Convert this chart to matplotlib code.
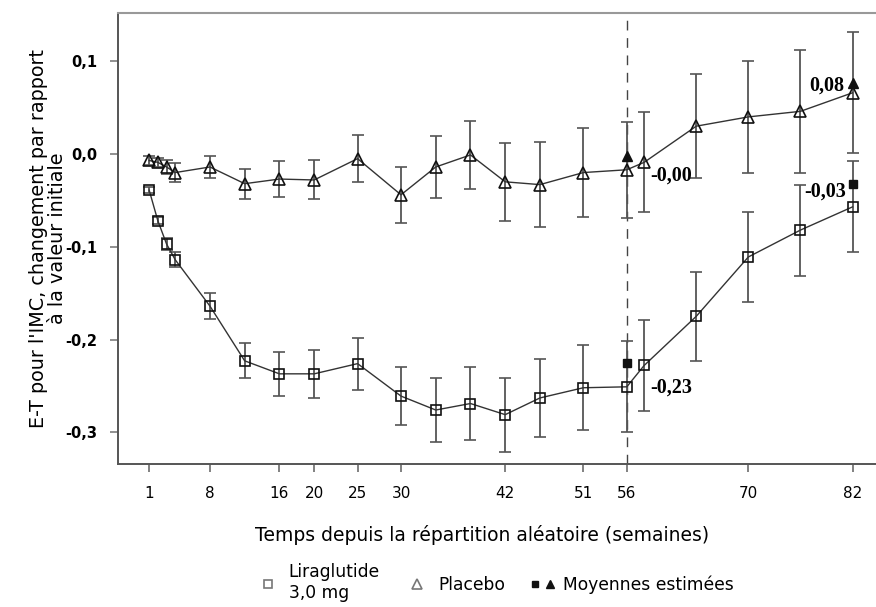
import matplotlib
matplotlib.use('Agg')
import matplotlib.pyplot as plt
from matplotlib.lines import Line2D
from matplotlib.legend_handler import HandlerTuple

weeks = [1, 2, 3, 4, 8, 12, 16, 20, 25, 30, 34, 38, 42, 46, 51, 56, 58, 64, 70, 76, 82]
lira_mean = [-0.039, -0.072, -0.097, -0.114, -0.164, -0.223, -0.237, -0.237, -0.226, -0.261, -0.276,
             -0.269, -0.281, -0.263, -0.252, -0.251, -0.228, -0.175, -0.111, -0.082, -0.057]
lira_err = [0.003, 0.004, 0.006, 0.008, 0.014, 0.019, 0.024, 0.026, 0.028, 0.031, 0.035,
            0.039, 0.040, 0.042, 0.046, 0.049, 0.049, 0.048, 0.049, 0.049, 0.049]
pla_mean = [-0.007, -0.009, -0.014, -0.020, -0.014, -0.032, -0.027, -0.028, -0.005, -0.044, -0.014,
            -0.001, -0.030, -0.033, -0.020, -0.017, -0.009, 0.030, 0.040, 0.046, 0.066]
pla_err = [0.005, 0.005, 0.008, 0.010, 0.012, 0.016, 0.019, 0.021, 0.025, 0.030, 0.033,
           0.037, 0.042, 0.046, 0.048, 0.052, 0.054, 0.056, 0.060, 0.066, 0.065]

est_weeks = [56, 82]
est_lira = [-0.225, -0.032]
est_pla = [-0.002, 0.077]
est_lira_labels = ['-0,23', '-0,03']
est_pla_labels = ['-0,00', '0,08']

xticks = [1, 8, 16, 20, 25, 30, 42, 51, 56, 70, 82]
yticks = [0.1, 0.0, -0.1, -0.2, -0.3]
ytick_labels = ['0,1', '0,0', '-0,1', '-0,2', '-0,3']

fig = plt.figure(figsize=(8.76, 6.07), dpi=100)
ax = fig.add_axes([0.135, 0.2356, 0.865, 0.7425])

ebar_kw = dict(ecolor='#555555', elinewidth=1.3, capsize=4.3, capthick=1.3)
ax.errorbar(weeks, pla_mean, yerr=pla_err, color='#333333', lw=1.0, marker='^', ms=8,
            mfc='none', mec='#111111', mew=1.2, zorder=3, **ebar_kw)
ax.errorbar(weeks, lira_mean, yerr=lira_err, color='#333333', lw=1.0, marker='s', ms=7.5,
            mfc='none', mec='#111111', mew=1.2, zorder=3, **ebar_kw)

ax.plot(est_weeks, est_lira, 's', color='#111111', ms=5.5, ls='none', zorder=4)
ax.plot(est_weeks, est_pla, '^', color='#111111', ms=6.5, ls='none', zorder=4)

ax.axvline(56, color='#444444', lw=1.0, dashes=(7, 5.5), zorder=2)

afont = dict(family='Liberation Serif', weight='bold', size=14.5)
offs_lira = [((16.6, -18), 'left'), ((-4.3, -6), 'right')]
offs_pla = [((16.6, -14.4), 'left'), ((-5.8, -2), 'right')]
for w, v, lab, (off, ha) in zip(est_weeks, est_lira, est_lira_labels, offs_lira):
    ax.annotate(lab, (w, v), xytext=off, textcoords='offset points', ha=ha, va='center', **afont)
for w, v, lab, (off, ha) in zip(est_weeks, est_pla, est_pla_labels, offs_pla):
    ax.annotate(lab, (w, v), xytext=off, textcoords='offset points', ha=ha, va='center', **afont)

ax.set_xlim(-2.56, 84.7)
ax.set_ylim(-0.3342, 0.1517)
ax.set_xticks(xticks)
ax.set_xticklabels([str(t) for t in xticks], fontsize=11)
ax.set_yticks(yticks)
ax.set_yticklabels(ytick_labels, fontsize=10.5, fontweight='bold')
ax.tick_params(axis='x', length=6, width=1.3, color='#777777', pad=10)
ax.tick_params(axis='y', length=6, width=1.3, color='#888888', pad=9)

ax.spines['right'].set_visible(False)
ax.spines['top'].set_color('#999999')
ax.spines['top'].set_linewidth(1.5)
for s in ['left', 'bottom']:
    ax.spines[s].set_color('#555555')
    ax.spines[s].set_linewidth(1.4)

ax.set_xlabel('Temps depuis la répartition aléatoire (semaines)', fontsize=13.5)
ax.xaxis.set_label_coords(0.48, -0.136)
ax.set_ylabel("E-T pour l'IMC, changement par rapport\nà la valeur initiale", fontsize=13.8,
              labelpad=-1, linespacing=0.95)

h_lira = Line2D([], [], marker='s', ls='none', mfc='none', mec='#777777', ms=6, mew=1.2)
h_pla = Line2D([], [], marker='^', ls='none', mfc='none', mec='#777777', ms=6.5, mew=1.2)
h_est1 = Line2D([], [], marker='s', ls='none', color='#111111', ms=5)
h_est2 = Line2D([], [], marker='^', ls='none', color='#111111', ms=5.5)
leg = fig.legend([h_lira, h_pla, (h_est1, h_est2)],
                 ['Liraglutide\n3,0 mg', 'Placebo', 'Moyennes estimées'],
                 handler_map={tuple: HandlerTuple(ndivide=None, pad=0.6)},
                 loc='center', bbox_to_anchor=(0.566, 0.040), ncol=3, frameon=False,
                 fontsize=12.3, handlelength=1.2, handletextpad=0.6, columnspacing=1.6,
                 labelspacing=0.2)
leg.get_texts()[0].set_linespacing(1.25)

plt.savefig('out.png', dpi=100)
